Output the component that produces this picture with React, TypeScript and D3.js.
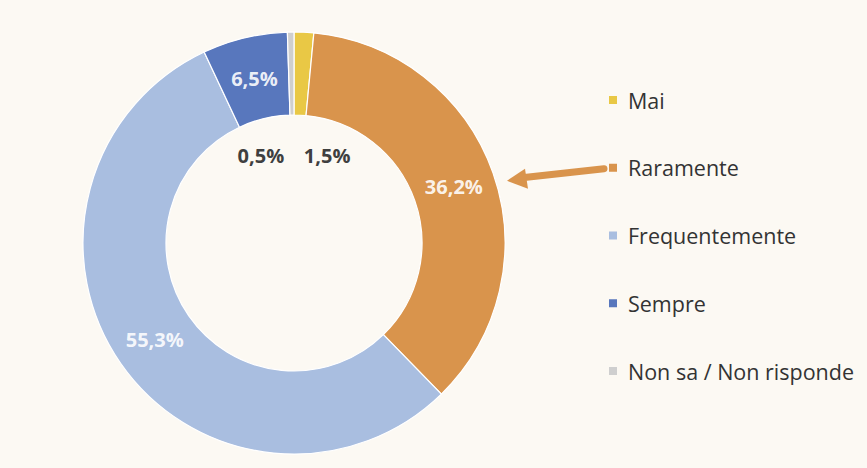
import { useEffect, useRef } from "react";
import * as d3 from "d3";

const categories = ["Mai", "Raramente", "Frequentemente", "Sempre", "Non sa / Non risponde"];
const shares = [1.5, 36.2, 55.3, 6.5, 0.5];
const colors = ["#e9c845", "#d9944c", "#a9bee0", "#5877bd", "#cfcfcf"];

const fmt = (v: number) => `${v.toFixed(1).replace(".", ",")}%`;

export default function App() {
  const svgRef = useRef<SVGSVGElement>(null);

  useEffect(() => {
    if (!svgRef.current) return;
    document.body.style.margin = "0";
    document.body.style.background = "#fcf9f3";
    const svg = d3.select(svgRef.current);
    svg.selectAll("*").remove();

    const width = 867;
    const height = 468;
    const cx = 294;
    const cy = 243;
    const outer = 211;
    const inner = 128;

    svg.append("rect").attr("width", width).attr("height", height).attr("fill", "#fcf9f3");

    const pie = d3
      .pie<number>()
      .sort(null)
      .value((d) => d)
      .startAngle(0)
      .endAngle(2 * Math.PI);
    const arcs = pie(shares);
    const arc = d3.arc<d3.PieArcDatum<number>>().innerRadius(inner).outerRadius(outer);

    const g = svg.append("g").attr("transform", `translate(${cx},${cy})`);

    g.selectAll("path")
      .data(arcs)
      .join("path")
      .attr("d", arc)
      .attr("fill", (_, i) => colors[i])
      .attr("stroke", "#ffffff")
      .attr("stroke-width", 1.2);

    // Labels: big slices on the ring, tiny slices inside the hole
    arcs.forEach((a, i) => {
      const big = a.value >= 5;
      let x: number;
      let y: number;
      let fill: string;
      if (big) {
        [x, y] = arc.centroid(a);
        fill = "#ffffff";
      } else {
        const side = i === 0 ? 1 : -1;
        const ang = side * 0.36;
        x = Math.sin(ang) * (inner - 34);
        y = -Math.cos(ang) * (inner - 34);
        fill = "#3f3f3f";
      }
      g.append("text")
        .attr("x", x)
        .attr("y", y)
        .attr("text-anchor", "middle")
        .attr("dominant-baseline", "central")
        .attr("font-family", "'Open Sans', sans-serif")
        .attr("font-weight", 700)
        .attr("font-size", 20)
        .attr("fill", fill)
        .attr("fill-opacity", big ? 0.9 : 1)
        .text(fmt(a.value));
    });

    // Legend
    const legendY = d3.scalePoint<string>().domain(categories).range([100, 371]);
    const lg = svg.append("g");
    categories.forEach((c, i) => {
      const y = legendY(c) || 0;
      lg.append("rect")
        .attr("x", 609)
        .attr("y", y - 4)
        .attr("width", 8)
        .attr("height", 8)
        .attr("fill", colors[i]);
      lg.append("text")
        .attr("x", 628)
        .attr("y", y)
        .attr("dominant-baseline", "central")
        .attr("font-family", "'Open Sans', sans-serif")
        .attr("font-size", 21.5)
        .attr("fill", "#333333")
        .text(c);
    });

    // Arrow pointing at Raramente slice
    const ay = legendY("Raramente") || 0;
    svg.append("line")
      .attr("x1", 604)
      .attr("y1", ay + 1)
      .attr("x2", 522)
      .attr("y2", ay + 10)
      .attr("stroke", colors[1])
      .attr("stroke-width", 7)
      .attr("stroke-linecap", "round");
    svg.append("path")
      .attr("d", `M507,${ay + 13} L525,${ay + 1} L528,${ay + 21} Z`)
      .attr("fill", colors[1]);
  }, []);

  return <svg ref={svgRef} width={867} height={468} style={{ display: "block" }} />;
}
